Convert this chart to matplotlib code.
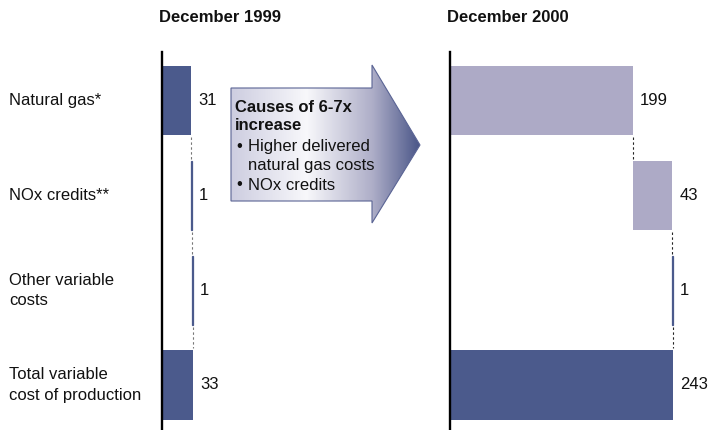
import matplotlib
matplotlib.use('Agg')
import matplotlib.pyplot as plt
import numpy as np
from matplotlib.path import Path
from matplotlib.patches import PathPatch
from matplotlib.colors import LinearSegmentedColormap
from matplotlib.transforms import blended_transform_factory

plt.rcParams['font.family'] = ['Liberation Sans', 'DejaVu Sans']

# ---------------- data ----------------
categories = ['Natural gas*', 'NOx credits**', 'Other variable\ncosts',
              'Total variable\ncost of production']
dec1999 = [31, 1, 1, 33]
dec2000 = [199, 43, 1, 243]
is_total = [False, False, False, True]
panel_titles = ['December 1999', 'December 2000']
arrow_title = ['Causes of 6-7x', 'increase']
arrow_bullets = [['Higher delivered', 'natural gas costs'], ['NOx credits']]

DARK = '#4b5a8c'
LIGHT = '#adaac6'
colors_1999 = [DARK, DARK, DARK, DARK]
colors_2000 = [LIGHT, LIGHT, DARK, DARK]

W, H = 710, 430
fig = plt.figure(figsize=(W / 100, H / 100), dpi=100)


def px_ax(x0, y0, w, h):
    return fig.add_axes([x0 / W, 1 - (y0 + h) / H, w / W, h / H])


overlay = fig.add_axes([0, 0, 1, 1])
overlay.set_xlim(0, W)
overlay.set_ylim(H, 0)
overlay.axis('off')

axL = px_ax(162, 52, 60, 378)
axL.set_xlim(0, 60 / 0.94)
axR = px_ax(450, 52, 255, 378)
axR.set_xlim(0, 255 / 0.918)

FS = 12


def waterfall(ax, values, colors, title, dash_color):
    n = len(values)
    y = np.arange(n)
    lefts, cum = [], 0
    for v, tot in zip(values, is_total):
        if tot:
            lefts.append(0)
        else:
            lefts.append(cum)
            cum += v
    ends = [l + v for l, v in zip(lefts, values)]
    xmax = ax.get_xlim()[1]
    bh = 0.73
    for i in range(n):
        thin = values[i] < 0.03 * xmax
        ax.barh(y[i], values[i], left=lefts[i], height=bh, color=colors[i],
                edgecolor=colors[i] if thin else 'none',
                linewidth=0.9 if thin else 0, zorder=2)
        ax.annotate(str(values[i]), xy=(ends[i], y[i]), xytext=(7, 0),
                    textcoords='offset pixels', va='center', ha='left',
                    fontsize=FS, color='#111111')
    for i in range(n - 1):
        ax.plot([ends[i], ends[i]], [y[i] + bh / 2 + 0.02, y[i + 1] - bh / 2 - 0.02],
                ls=(0, (2.2, 2.2)), color=dash_color, lw=0.8, zorder=1)
    ax.set_ylim(3.4745, -0.511)
    for s in ['top', 'right', 'bottom']:
        ax.spines[s].set_visible(False)
    ax.spines['left'].set_linewidth(1.7)
    ax.spines['left'].set_color('black')
    ax.spines['left'].set_zorder(3)
    ax.set_xticks([])
    ax.set_yticks([])
    ax.patch.set_alpha(0)
    ax.annotate(title, xy=(0, 1), xycoords='axes fraction', xytext=(-3, 34),
                textcoords='offset pixels', fontweight='bold', fontsize=FS,
                va='center', ha='left', color='#111111')


waterfall(axL, dec1999, colors_1999, panel_titles[0], '#777777')
waterfall(axR, dec2000, colors_2000, panel_titles[1], '#222222')

# category labels aligned with rows
tr = blended_transform_factory(fig.transFigure, axL.transData)
for i, c in enumerate(categories):
    axL.text(9 / W, i, c, transform=tr, ha='left', va='center', fontsize=FS,
             color='#111111', linespacing=1.42)

# ---------------- arrow with gradient ----------------
verts = [(231, 88), (372, 88), (372, 65), (420, 145), (372, 223),
         (372, 201), (231, 201), (231, 88)]
codes = [Path.MOVETO] + [Path.LINETO] * 6 + [Path.CLOSEPOLY]
path = Path(verts, codes)
patch = PathPatch(path, facecolor='none', edgecolor='#5a6494', lw=0.8, zorder=3)
overlay.add_patch(patch)
cmap = LinearSegmentedColormap.from_list(
    'grad', [(0.0, '#cdcde0'), (0.4, '#f8f8fb'), (0.75, '#aeaec8'),
             (1.0, '#4a5688')])
grad = np.linspace(0, 1, 256).reshape(1, -1)
im = overlay.imshow(grad, cmap=cmap, extent=[231, 420, 223, 65], aspect='auto',
                    zorder=2, interpolation='bilinear')
im.set_clip_path(patch)
overlay.set_xlim(0, W)
overlay.set_ylim(H, 0)

tc = '#111111'
overlay.text(235, 112, arrow_title[0], fontweight='bold', fontsize=FS, va='baseline', color=tc, zorder=4)
overlay.text(235, 130, arrow_title[1], fontweight='bold', fontsize=FS, va='baseline', color=tc, zorder=4)
baselines = [[150.5, 170], [189.5]]
for lines, bls in zip(arrow_bullets, baselines):
    overlay.text(236, bls[0], '\u2022', fontsize=FS, va='baseline', color=tc, zorder=4)
    for ln, b in zip(lines, bls):
        overlay.text(248, b, ln, fontsize=FS, va='baseline', color=tc, zorder=4)

fig.savefig('out.png', dpi=100)
